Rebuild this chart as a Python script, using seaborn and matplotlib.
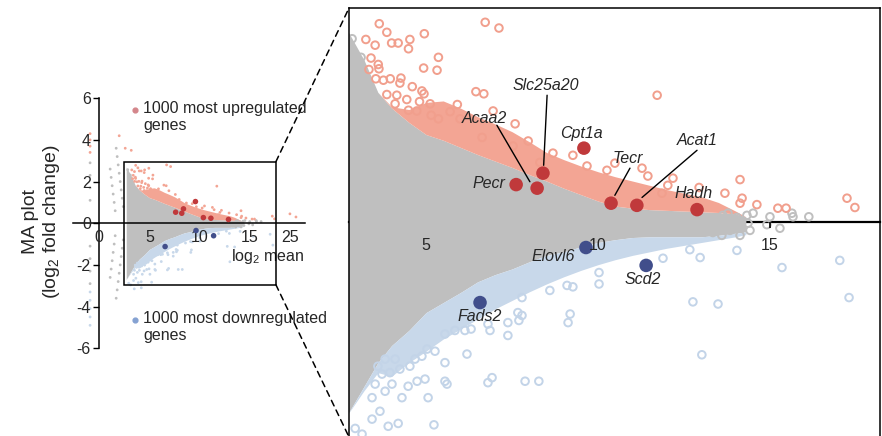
import matplotlib
matplotlib.use("Agg")
import matplotlib.pyplot as plt
import pandas as pd
import seaborn as sns
from matplotlib.patches import Rectangle, ConnectionPatch

# dense part of the cloud: boundaries along log2 mean
grid_x = [2.7, 3.2, 3.6, 4.0, 4.5, 5.0, 5.5, 6.0, 6.5, 7.0, 7.5, 8.0, 8.5,
          9.0, 9.5, 10.0, 10.5, 11.0, 11.5, 12.0, 12.5, 13.0, 13.5, 14.0, 14.3]
gray_top = [2.70, 2.27, 1.82, 1.60, 1.40, 1.23, 1.15, 1.05, 0.95, 0.86, 0.77,
            0.67, 0.58, 0.48, 0.39, 0.30, 0.23, 0.20, 0.18, 0.17, 0.16, 0.15,
            0.14, 0.12, 0.08]
gray_bottom = [-2.70, -2.29, -1.96, -1.72, -1.51, -1.26, -1.12, -0.98, -0.83,
               -0.73, -0.65, -0.55, -0.46, -0.41, -0.34, -0.28, -0.24, -0.21,
               -0.20, -0.20, -0.20, -0.20, -0.18, -0.15, -0.13]
up_top = [2.70, 2.27, 1.82, 1.62, 1.58, 1.68, 1.70, 1.60, 1.48, 1.38, 1.27,
          1.13, 0.98, 0.88, 0.79, 0.71, 0.64, 0.58, 0.52, 0.46, 0.41, 0.36,
          0.28, 0.16, 0.08]
down_bottom = [-2.70, -2.35, -2.10, -2.15, -1.96, -1.80, -1.63, -1.49, -1.35,
               -1.21, -1.09, -0.97, -0.86, -0.76, -0.67, -0.59, -0.52, -0.46,
               -0.41, -0.36, -0.32, -0.28, -0.24, -0.20, -0.17]

# scattered upregulated genes (outside the dense band)
up_x = [3.64, 3.86, 3.25, 3.52, 4.00, 4.19, 4.53, 4.49, 4.95, 6.72,
        7.12, 5.36, 4.93, 5.32, 3.40, 3.61, 3.34, 3.63, 3.54, 3.76,
        3.96, 4.27, 4.24, 4.60, 4.88, 4.94, 3.86, 4.15, 4.44, 4.10,
        4.81, 5.12, 5.91, 6.45, 6.68, 4.49, 4.73, 5.15, 5.36, 5.70,
        5.99, 7.59, 6.95, 7.97, 8.69, 9.27, 9.68, 7.53, 6.63, 8.31,
        11.72, 11.28, 11.45, 12.18, 10.49, 10.26, 14.13, 13.69, 14.19, 14.13,
        14.62, 15.23, 15.47, 17.24, 17.47, 12.94, 12.03, 11.86,
        -0.9, -0.9, -0.9, -0.9, 2.0, 2.6, 3.2, 19.0, 19.6]
up_y = [2.78, 2.66, 2.56, 2.48, 2.51, 2.51, 2.56, 2.43, 2.64, 2.80,
        2.72, 2.31, 2.16, 2.13, 2.30, 2.21, 2.14, 2.15, 2.01, 1.99,
        2.01, 2.02, 1.95, 1.90, 1.84, 1.80, 1.79, 1.78, 1.72, 1.66,
        1.69, 1.66, 1.65, 1.83, 1.80, 1.57, 1.56, 1.50, 1.45, 1.55,
        1.45, 1.38, 1.56, 1.14, 0.97, 0.94, 0.79, 1.07, 1.19, 0.84,
        1.78, 0.76, 0.65, 0.62, 0.83, 0.73, 0.60, 0.41, 0.34, 0.27,
        0.25, 0.20, 0.20, 0.34, 0.21, 0.49, 0.52, 0.41,
        4.3, 4.0, 3.7, 3.4, 4.2, 3.6, 3.5, 0.45, 0.30]

# scattered downregulated genes
down_x = [5.84, 6.13, 5.55, 6.86, 7.38, 7.67, 7.38, 6.80, 6.31, 6.19,
          5.55, 5.26, 5.03, 4.88, 4.68, 4.53, 4.24, 3.95, 3.72, 3.81,
          3.60, 4.10, 4.74, 4.97, 4.48, 4.01, 3.81, 3.52, 5.55, 5.61,
          6.92, 6.80, 5.06, 4.30, 3.43, 3.66, 3.43, 4.19, 5.23, 3.90,
          2.94, 3.14, 7.79, 9.19, 9.13, 7.88, 8.28, 12.76, 13.49, 13.02,
          7.70, 7.79, 8.60, 9.10, 9.27, 10.03, 10.03, 11.89, 12.97, 14.04,
          15.35, 17.03, 17.30, 12.67,
          -0.9, -0.9, -0.9, -0.9, -0.9, 3.5, 4.2]
down_y = [-1.51, -1.51, -1.56, -1.51, -1.58, -1.26, -1.40, -1.42, -1.49, -1.84,
          -1.96, -1.80, -1.77, -1.87, -1.91, -2.01, -2.05, -2.10, -2.12, -1.91,
          -2.01, -1.91, -2.22, -2.19, -2.29, -2.26, -2.36, -2.26, -2.22, -2.26,
          -2.17, -2.24, -2.45, -2.45, -2.45, -2.64, -2.75, -2.81, -2.83, -2.85,
          -2.88, -2.96, -1.30, -1.28, -1.40, -2.22, -2.22, -1.11, -1.14, -1.85,
          -1.37, -1.05, -0.95, -0.88, -0.90, -0.70, -0.86, -0.50, -0.49, -0.39,
          -0.63, -0.53, -1.05, -0.38,
          -3.3, -3.7, -4.1, -4.5, -4.9, -3.15, -3.1]

# scattered unchanged genes
gray_x = [2.85, 3.11, 2.99, 13.63, 13.78, 14.04, 14.33, 14.51, 15.00, 15.64,
          15.67, 16.13, 14.13, 14.36, 14.91, 14.42, 14.13, 15.29, 13.84, 13.60,
          13.34,
          1.7, 1.8, 1.9, 2.0, 2.1, 2.2, 2.3, 2.4,
          1.1, 1.2, 1.3, 1.4, 1.5, 1.6,
          1.7, 1.8, 1.9, 2.0, 2.1, 2.2, 2.3, 2.4,
          1.1, 1.2, 1.3, 1.4, 1.5, 1.6,
          -0.9, -0.9, -0.9, -0.9, -0.9, -0.9, -0.9, -0.9]
gray_y = [2.57, 2.31, 2.10, 0.10, 0.13, 0.07, 0.10, 0.13, 0.08, 0.13,
          0.08, 0.08, -0.01, -0.01, -0.03, -0.11, -0.18, -0.08, -0.11, -0.18,
          -0.14,
          3.6, 3.2, 2.8, 2.4, 2.0, 1.6, 1.2, 0.8,
          2.6, 2.2, 1.8, 1.4, 1.0, 0.6,
          -3.6, -3.2, -2.8, -2.4, -2.0, -1.6, -1.2, -0.8,
          -2.6, -2.2, -1.8, -1.4, -1.0, -0.6,
          2.9, 2.3, 1.7, 1.1, -1.1, -1.7, -2.3, -2.9]

# highlighted fatty-acid genes
genes = ["Pecr", "Acaa2", "Slc25a20", "Cpt1a", "Tecr", "Acat1", "Hadh",
         "Elovl6", "Scd2", "Fads2"]
gene_x = [7.62, 8.23, 8.40, 9.59, 10.38, 11.13, 12.88, 9.65, 11.40, 6.57]
gene_y = [0.53, 0.48, 0.69, 1.04, 0.27, 0.24, 0.18, -0.35, -0.60, -1.12]
gene_dir = ["up"] * 7 + ["down"] * 3

GRAY = "#bfbfbf"
UP = "#f3a594"
UP_DARK = "#c0393b"
DOWN = "#c8d8ea"
DOWN_DARK = "#414e8b"

sns.set_theme(style="white")
plt.rcParams["font.family"] = ["Liberation Sans", "DejaVu Sans"]
plt.rcParams["axes.unicode_minus"] = False
plt.rcParams["mathtext.fontset"] = "custom"
plt.rcParams["mathtext.rm"] = "Liberation Sans"
plt.rcParams["mathtext.it"] = "Liberation Sans:italic"

env = pd.DataFrame({"mean": grid_x, "gray_top": gray_top, "gray_bottom": gray_bottom,
                    "up_top": up_top, "down_bottom": down_bottom})
up = pd.DataFrame({"mean": up_x, "lfc": up_y})
down = pd.DataFrame({"mean": down_x, "lfc": down_y})
rest = pd.DataFrame({"mean": gray_x, "lfc": gray_y})
hits = pd.DataFrame({"gene": genes, "mean": gene_x, "lfc": gene_y, "dir": gene_dir})

fig = plt.figure(figsize=(8.82, 4.36), dpi=100)
ax_all = fig.add_axes([73 / 882, 0.187, 232 / 882, 0.602])
ax_zoom = fig.add_axes([349 / 882, -1 / 436, 531 / 882, 429 / 436])


def draw_cloud(ax):
    ax.fill_between(env["mean"], env["gray_bottom"], env["gray_top"],
                    color=GRAY, lw=0, zorder=1)
    ax.fill_between(env["mean"], env["gray_top"], env["up_top"],
                    color=UP, lw=0, zorder=1)
    ax.fill_between(env["mean"], env["down_bottom"], env["gray_bottom"],
                    color=DOWN, lw=0, zorder=1)


# ---- overview panel ----
draw_cloud(ax_all)
for df, col in [(rest, GRAY), (up, UP), (down, DOWN)]:
    sns.scatterplot(data=df, x="mean", y="lfc", ax=ax_all, s=4, color=col,
                    edgecolor="none", legend=False, zorder=2)
sns.scatterplot(data=hits, x="mean", y="lfc", hue="dir", ax=ax_all, s=16,
                palette={"up": UP_DARK, "down": DOWN_DARK}, edgecolor="none",
                legend=False, zorder=3)

ax_all.set_axisbelow(False)
ax_all.set_xlim(-2.6, 20.5)
ax_all.set_ylim(-6.3, 6.3)
for side in ["top", "right"]:
    ax_all.spines[side].set_visible(False)
ax_all.spines["left"].set_position(("data", 0))
ax_all.spines["left"].set_bounds(-6, 6)
ax_all.spines["bottom"].set_position(("data", 0))
for side in ["left", "bottom"]:
    ax_all.spines[side].set_color("black")
    ax_all.spines[side].set_linewidth(1.1)
    ax_all.spines[side].set_zorder(2.5)
ax_all.set_yticks([-6, -4, -2, 0, 2, 4, 6])
ax_all.set_xticks([0, 5, 10, 15, 18.97])
ax_all.set_xticklabels(["0", "5", "10", "15", "25"])
ax_all.tick_params(axis="y", left=True, length=4, width=1, color="black",
                   labelsize=11.5, pad=2)
ax_all.tick_params(axis="x", bottom=False, length=0, labelsize=11.5, pad=5)
ax_all.set_xlabel("")
ax_all.set_ylabel("")
ax_all.text(20.46, -1.62, "log$_2$ mean", ha="right", va="center", fontsize=11.5)

ax_all.add_patch(Rectangle((2.5, -2.95), 15.1, 5.9, fill=False, ec="black",
                           lw=1.1, zorder=4))

ax_all.scatter([3.6], [5.44], s=12, color="#d4868b", zorder=4, clip_on=False)
ax_all.text(4.37, 5.87, "1000 most upregulated\ngenes", ha="left", va="top",
            fontsize=11.5, linespacing=1.15, clip_on=False)
ax_all.scatter([3.6], [-4.64], s=12, color="#85a2d2", zorder=4, clip_on=False)
ax_all.text(4.37, -4.21, "1000 most downregulated\ngenes", ha="left", va="top",
            fontsize=11.5, linespacing=1.15, clip_on=False)

fig.text(42 / 882, 0.491, "MA plot\n(log$_2$ fold change)", rotation=90,
         ha="center", va="center", multialignment="center", fontsize=14,
         linespacing=1.1)

# ---- zoomed panel ----
draw_cloud(ax_zoom)
sns.scatterplot(data=rest, x="mean", y="lfc", ax=ax_zoom, s=30, marker="o",
                facecolor="none", edgecolor=GRAY, linewidth=1.4, legend=False,
                zorder=2)
sns.scatterplot(data=up, x="mean", y="lfc", ax=ax_zoom, s=30, marker="o",
                facecolor="none", edgecolor="#f19f8d", linewidth=1.4,
                legend=False, zorder=2)
sns.scatterplot(data=down, x="mean", y="lfc", ax=ax_zoom, s=30, marker="o",
                facecolor="none", edgecolor="#c3d4e8", linewidth=1.4,
                legend=False, zorder=2)
sns.scatterplot(data=hits, x="mean", y="lfc", hue="dir", ax=ax_zoom, s=95,
                palette={"up": UP_DARK, "down": DOWN_DARK}, edgecolor="none",
                legend=False, zorder=4)

ax_zoom.set_axisbelow(False)
ax_zoom.xaxis.set_zorder(5)
ax_zoom.set_xlim(2.76, 18.2)
ax_zoom.set_ylim(-3, 3)
ax_zoom.spines["bottom"].set_position(("data", 0))
ax_zoom.spines["bottom"].set_zorder(0.5)
ax_zoom.spines["bottom"].set_linewidth(1.6)
for side in ["top", "left", "right", "bottom"]:
    ax_zoom.spines[side].set_color("black")
for side in ["top", "left", "right"]:
    ax_zoom.spines[side].set_linewidth(1.1)
ax_zoom.set_yticks([])
ax_zoom.set_xticks([5, 10, 15])
ax_zoom.tick_params(axis="x", bottom=True, direction="out", length=4, width=1.2,
                    color="black", labelsize=11.5, pad=7)
for tick, val in zip(ax_zoom.xaxis.get_major_ticks(), [5, 10, 15]):
    tick.tick1line.set_visible(val == 15)
ax_zoom.set_xlabel("")
ax_zoom.set_ylabel("")

label_pos = {
    "Pecr": (7.30, 0.54, "right"), "Acaa2": (6.69, 1.46, "center"),
    "Slc25a20": (8.49, 1.91, "center"), "Cpt1a": (9.51, 1.25, "center"),
    "Tecr": (10.87, 0.89, "center"), "Acat1": (12.88, 1.14, "center"),
    "Hadh": (12.79, 0.40, "center"), "Elovl6": (8.69, -0.48, "center"),
    "Scd2": (11.31, -0.80, "center"), "Fads2": (6.57, -1.32, "center"),
}
for gene, (tx, ty, ha) in label_pos.items():
    ax_zoom.text(tx, ty, gene, ha=ha, va="center", fontsize=11.5,
                 style="italic", zorder=6)

leaders = {"Acaa2": ((7.06, 1.36), (8.02, 0.57)),
           "Slc25a20": ((8.52, 1.78), (8.42, 0.80)),
           "Tecr": ((10.93, 0.76), (10.49, 0.38)),
           "Acat1": ((12.88, 1.01), (11.28, 0.35))}
for (x0, y0), (x1, y1) in leaders.values():
    ax_zoom.plot([x0, x1], [y0, y1], color="black", lw=1, zorder=5)

# dashed zoom connectors
for ya, yb in [(2.95, 1), (-2.95, 0)]:
    con = ConnectionPatch(xyA=(17.6, ya), coordsA=ax_all.transData,
                          xyB=(0, yb), coordsB=ax_zoom.transAxes,
                          color="black", lw=1.1, linestyle=(0, (4, 3)))
    fig.add_artist(con)

fig.savefig("out.png", dpi=100)
